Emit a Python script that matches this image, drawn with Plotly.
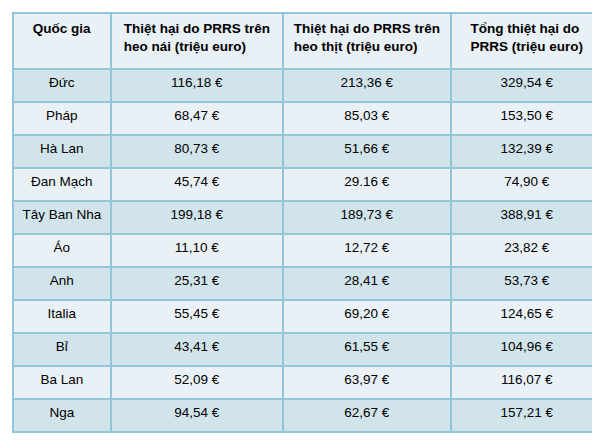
import plotly.graph_objects as go

headers = ['<b>Quốc gia</b>', '<b>Thiệt hại do PRRS trên<br>heo nái (triệu euro)</b>',
           '<b>Thiệt hại do PRRS trên<br>heo thịt (triệu euro)</b>',
           '<b>Tổng thiệt hại do<br>PRRS (triệu euro)</b>']
countries = ['Đức', 'Pháp', 'Hà Lan', 'Đan Mạch', 'Tây Ban Nha', 'Áo', 'Anh', 'Italia', 'Bỉ', 'Ba Lan', 'Nga']
sow_loss = ['116,18 €', '68,47 €', '80,73 €', '45,74 €', '199,18 €', '11,10 €', '25,31 €', '55,45 €', '43,41 €', '52,09 €', '94,54 €']
pig_loss = ['213,36 €', '85,03 €', '51,66 €', '29.16 €', '189,73 €', '12,72 €', '28,41 €', '69,20 €', '61,55 €', '63,97 €', '62,67 €']
total_loss = ['329,54 €', '153,50 €', '132,39 €', '74,90 €', '388,91 €', '23,82 €', '53,73 €', '124,65 €', '104,96 €', '116,07 €', '157,21 €']

# alternate row colours
row_colors = ['#d2e4eb' if i % 2 == 0 else '#eaf1f6' for i in range(len(countries))]
# keep country names on one line
country_cells = [c.replace(' ', '\u00a0') for c in countries]

fig = go.Figure(go.Table(
    columnwidth=[98, 172, 168, 152],
    header=dict(values=headers, fill_color='#eaf1f6', line_color='#93c6d6', line_width=1.5,
                align='center', height=56,
                font=dict(family='Liberation Sans, Arial', size=13.5, color='black')),
    cells=dict(values=[country_cells, sow_loss, pig_loss, total_loss],
               fill_color=[row_colors] * 4, line_color='#93c6d6', line_width=1.5,
               align='center', height=33,
               font=dict(family='Liberation Sans, Arial', size=13.5, color='black')),
    domain=dict(x=[0.008, 0.992], y=[0, 1]),
))
fig.update_layout(width=600, height=442, margin=dict(l=0, r=0, t=5, b=0), paper_bgcolor='white')
fig.write_html('out.html')
